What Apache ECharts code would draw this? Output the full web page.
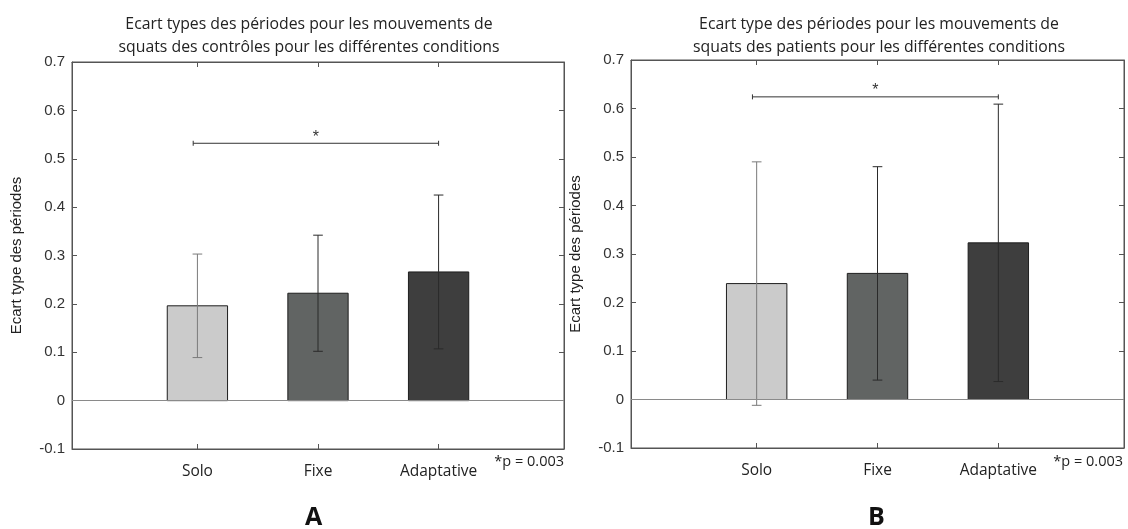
<!DOCTYPE html>
<html>
<head>
<meta charset="utf-8">
<script src="https://cdn.jsdelivr.net/npm/echarts@6/dist/echarts.min.js"></script>
<style>
html,body{margin:0;padding:0;background:#fff;}
#c{width:1128px;height:529px;}
</style>
</head>
<body>
<div id="c"></div>
<script>
// ---- data ----
var categories = ['Solo', 'Fixe', 'Adaptative'];
var ctrlMean = [0.196, 0.222, 0.266];
var ctrlSD = [0.107, 0.120, 0.159];
var patMean = [0.239, 0.260, 0.323];
var patSD = [0.251, 0.220, 0.286];
var ctrlSig = [0.965, 3.0, 0.532];   // from, to, level
var patSig = [0.965, 3.0, 0.624];
var titleA = 'Ecart types des périodes pour les mouvements de\nsquats des contrôles pour les différentes conditions';
var titleB = 'Ecart type des périodes pour les mouvements de\nsquats des patients pour les différentes conditions';
var yName = 'Ecart type des périodes';
var pText = '*p = 0.003';

// ---- styles ----
var barColors = ['#cbcbcb', '#616463', '#3e3e3e'];
var errColors = ['#7a7a7a', '#2a2a2a', '#2a2a2a'];
var axisColor = '#555555';
var labelColor = '#333333';

var chart = echarts.init(document.getElementById('c'));

var grids = [
  {left: 72, top: 62, width: 492, height: 387},
  {left: 631, top: 60, width: 493, height: 388}
];

function xAxes(gi) {
  var base = {
    gridIndex: gi, type: 'value', min: -0.04, max: 4.04,
    splitLine: {show: false},
    axisLine: {show: true, onZero: false, lineStyle: {color: axisColor, width: 1}}
  };
  var bottom = Object.assign({}, base, {
    position: 'bottom',
    axisTick: {show: true, inside: true, length: 5, customValues: [1, 2, 3], lineStyle: {color: axisColor}},
    axisLabel: {show: true, customValues: [1, 2, 3], margin: 15,
      formatter: function (v) { return categories[Math.round(v) - 1] || ''; },
      fontFamily: 'Open Sans', fontSize: 15.5, color: '#222'}
  });
  var top = Object.assign({}, base, {
    position: 'top',
    axisTick: {show: true, inside: true, length: 5, customValues: [1, 2, 3], lineStyle: {color: axisColor}},
    axisLabel: {show: false}
  });
  return [bottom, top];
}
function yAxes(gi) {
  var base = {
    gridIndex: gi, type: 'value', min: -0.1, max: 0.7, interval: 0.1,
    splitLine: {show: false},
    axisLine: {show: true, onZero: false, lineStyle: {color: axisColor, width: 1}},
    axisTick: {show: true, inside: true, length: 5, lineStyle: {color: axisColor}}
  };
  var left = Object.assign({}, base, {
    position: 'left',
    name: yName, nameLocation: 'middle', nameGap: 48, nameRotate: 90,
    nameTextStyle: {fontFamily: 'Liberation Sans', fontSize: 15, color: '#222'},
    axisLabel: {show: true, margin: 7, fontFamily: 'Liberation Sans', fontSize: 15, color: labelColor,
      formatter: function (v) { var r = Math.round(v * 10) / 10; return r === 0 ? '0' : r.toFixed(1); }}
  });
  var right = Object.assign({}, base, {position: 'right', axisLabel: {show: false}});
  return [left, right];
}

var xa = xAxes(0).concat(xAxes(1));
var ya = yAxes(0).concat(yAxes(1));

function barSeries(means, xi, yi) {
  var data = means.map(function (m, i) { return [i + 1, m]; });
  return {
    type: 'custom', xAxisIndex: xi, yAxisIndex: yi, silent: true,
    data: data,
    renderItem: function (params, api) {
      var x = api.value(0), v = api.value(1);
      var p1 = api.coord([x - 0.25, v]);
      var p2 = api.coord([x + 0.25, 0]);
      return {
        type: 'rect',
        shape: {x: p1[0], y: Math.min(p1[1], p2[1]), width: p2[0] - p1[0], height: Math.abs(p2[1] - p1[1])},
        style: {fill: barColors[params.dataIndex], stroke: '#1e1e1e', lineWidth: 1}
      };
    },
    markLine: {
      silent: true, symbol: 'none', label: {show: false},
      lineStyle: {color: '#8a8a8a', width: 1, type: 'solid'},
      data: [{yAxis: 0}]
    },
    z: 2
  };
}
function errSeries(means, sds, xi, yi) {
  var data = means.map(function (m, i) { return [i + 1, m - sds[i], m + sds[i]]; });
  return {
    type: 'custom', xAxisIndex: xi, yAxisIndex: yi, silent: true,
    data: data,
    renderItem: function (params, api) {
      var x = api.value(0);
      var lo = api.coord([x, api.value(1)]);
      var hi = api.coord([x, api.value(2)]);
      var hw = api.size([0.04, 0])[0];
      var st = {stroke: errColors[params.dataIndex], lineWidth: 1};
      return {
        type: 'group',
        children: [
          {type: 'line', shape: {x1: lo[0], y1: lo[1], x2: hi[0], y2: hi[1]}, style: st},
          {type: 'line', shape: {x1: lo[0] - hw, y1: lo[1], x2: lo[0] + hw, y2: lo[1]}, style: st},
          {type: 'line', shape: {x1: hi[0] - hw, y1: hi[1], x2: hi[0] + hw, y2: hi[1]}, style: st}
        ]
      };
    },
    z: 3
  };
}
function sigSeries(sig, xi, yi) {
  return {
    type: 'custom', xAxisIndex: xi, yAxisIndex: yi, silent: true,
    data: [sig],
    renderItem: function (params, api) {
      var a = api.coord([api.value(0), api.value(2)]);
      var b = api.coord([api.value(1), api.value(2)]);
      var st = {stroke: '#333', lineWidth: 1};
      return {
        type: 'group',
        children: [
          {type: 'line', shape: {x1: a[0], y1: a[1], x2: b[0], y2: b[1]}, style: st},
          {type: 'line', shape: {x1: a[0], y1: a[1] - 2.5, x2: a[0], y2: a[1] + 2.5}, style: st},
          {type: 'line', shape: {x1: b[0], y1: b[1] - 2.5, x2: b[0], y2: b[1] + 2.5}, style: st},
          {type: 'text', x: (a[0] + b[0]) / 2, y: a[1] + 2,
            style: {text: '*', fill: '#333', fontFamily: 'Liberation Sans', fontSize: 16, align: 'center', verticalAlign: 'bottom'}}
        ]
      };
    },
    z: 4
  };
}

var titleStyle = {fontFamily: 'Open Sans', fontSize: 15.8, fontWeight: 'normal', color: '#222', lineHeight: 23};
var option = {
  animation: false,
  backgroundColor: '#ffffff',
  title: [
    {text: titleA, left: 304, top: 8, textAlign: 'center', textStyle: titleStyle},
    {text: titleB, left: 874, top: 8, textAlign: 'center', textStyle: titleStyle}
  ],
  grid: grids.map(function (g) { return Object.assign({show: true, borderColor: axisColor, borderWidth: 1, backgroundColor: '#fff'}, g); }),
  xAxis: xa,
  yAxis: ya,
  series: [
    barSeries(ctrlMean, 0, 0), errSeries(ctrlMean, ctrlSD, 0, 0), sigSeries(ctrlSig, 0, 0),
    barSeries(patMean, 2, 2), errSeries(patMean, patSD, 2, 2), sigSeries(patSig, 2, 2)
  ],
  graphic: [
    {type: 'text', right: 564, top: 454, style: {text: pText, fontFamily: 'Open Sans', fontSize: 14.5, fill: '#222'}},
    {type: 'text', right: 5, top: 454, style: {text: pText, fontFamily: 'Open Sans', fontSize: 14.5, fill: '#222'}},
    {type: 'text', left: 305, top: 505, style: {text: 'A', fontFamily: 'Open Sans', fontSize: 25, fontWeight: 'bold', fill: '#111'}},
    {type: 'text', left: 868, top: 505, style: {text: 'B', fontFamily: 'Open Sans', fontSize: 25, fontWeight: 'bold', fill: '#111'}}
  ]
};
chart.setOption(option);
</script>
</body>
</html>
